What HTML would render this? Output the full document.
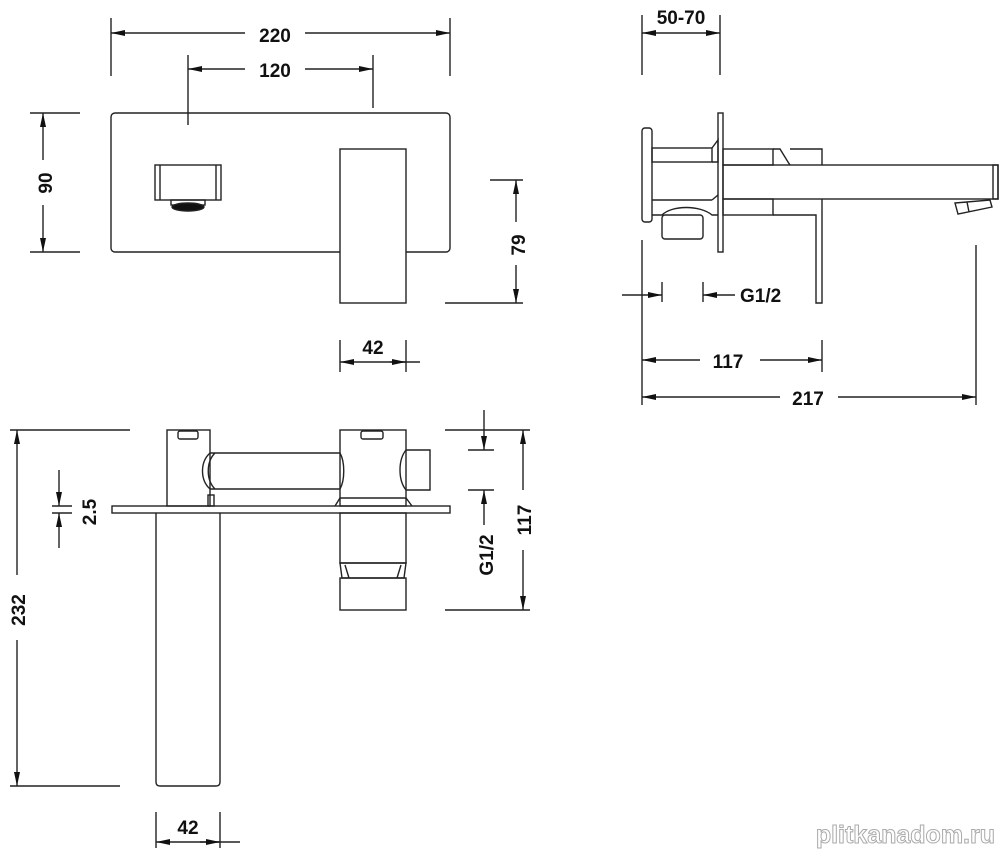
<!DOCTYPE html>
<html><head><meta charset="utf-8"><style>
html,body{margin:0;padding:0;background:#fff;}
svg{display:block;}
text{font-family:"Liberation Sans",sans-serif;font-weight:bold;font-size:19px;fill:#111;}
</style></head><body>
<svg width="1000" height="853" viewBox="0 0 1000 853" xmlns="http://www.w3.org/2000/svg">
<defs>
<marker id="a" viewBox="0 0 14 6" refX="14" refY="3" markerWidth="14" markerHeight="6" orient="auto-start-reverse" markerUnits="userSpaceOnUse"><path d="M0,0L14,3L0,6z" fill="#111"/></marker>
</defs>
<g stroke="#222" stroke-width="1.4" fill="none">
<rect x="111" y="113" width="339" height="139" rx="4"/>
<rect x="340" y="149" width="66" height="154" fill="#fff"/>
<rect x="155" y="165" width="66" height="35"/>
<line x1="160" y1="165" x2="160" y2="200"/><line x1="216" y1="165" x2="216" y2="200"/>
<rect x="171" y="200" width="34" height="5"/>
<ellipse cx="188" cy="207" rx="16" ry="4" fill="#111"/>
<line x1="111" y1="18" x2="111" y2="76"/><line x1="450" y1="18" x2="450" y2="76"/>
<line x1="111" y1="33" x2="245" y2="33" marker-start="url(#a)"/><line x1="305" y1="33" x2="450" y2="33" marker-end="url(#a)"/>
<line x1="188" y1="55" x2="188" y2="125"/><line x1="373" y1="55" x2="373" y2="108"/>
<line x1="188" y1="69" x2="245" y2="69" marker-start="url(#a)"/><line x1="305" y1="69" x2="373" y2="69" marker-end="url(#a)"/>
<line x1="30" y1="113" x2="80" y2="113"/><line x1="30" y1="252" x2="80" y2="252"/>
<line x1="43" y1="113" x2="43" y2="160" marker-start="url(#a)"/><line x1="43" y1="205" x2="43" y2="252" marker-end="url(#a)"/>
<line x1="490" y1="180" x2="523" y2="180"/><line x1="445" y1="303" x2="523" y2="303"/>
<line x1="516" y1="180" x2="516" y2="222" marker-start="url(#a)"/><line x1="516" y1="265" x2="516" y2="303" marker-end="url(#a)"/>
<line x1="340" y1="340" x2="340" y2="372"/><line x1="406" y1="340" x2="406" y2="372"/>
<line x1="340" y1="362" x2="420" y2="362" marker-start="url(#a)"/>
<line x1="390" y1="362" x2="406" y2="362" marker-end="url(#a)"/>
<rect x="642" y="128" width="10" height="94" rx="3"/>
<rect x="718" y="113" width="5" height="139"/>
<rect x="652" y="148" width="60" height="14"/>
<path d="M712,148 L718,140 L718,162 L712,162"/>
<path d="M652,200 L712,200 M652,215 L662,215 C672,205 700,205 712,215 L718,215 M712,200 L718,195"/>
<rect x="662" y="215" width="41" height="24" rx="3"/>
<rect x="723" y="149" width="50" height="16"/>
<path d="M773,149 L780,149 L788,162 L790,165 M790,149 L822,149 L822,165"/>
<rect x="723" y="165" width="275" height="34"/>
<rect x="993" y="165" width="5" height="34"/>
<rect x="723" y="199" width="50" height="16"/>
<path d="M773,215 L816,215 L816,303 L822,303 L822,199"/>
<path d="M955,203 L990,200 L992,207 L958,214 Z M967,202 L969,212"/>
<line x1="642" y1="15" x2="642" y2="75"/><line x1="720" y1="15" x2="720" y2="75"/>
<line x1="642" y1="33" x2="720" y2="33" marker-start="url(#a)" marker-end="url(#a)"/>
<line x1="642" y1="240" x2="642" y2="405"/>
<line x1="662" y1="282" x2="662" y2="302"/><line x1="703" y1="282" x2="703" y2="302"/>
<line x1="622" y1="295" x2="662" y2="295" marker-end="url(#a)"/>
<line x1="735" y1="295" x2="703" y2="295" marker-end="url(#a)"/>
<line x1="822" y1="340" x2="822" y2="372"/>
<line x1="642" y1="360" x2="700" y2="360" marker-start="url(#a)"/><line x1="760" y1="360" x2="822" y2="360" marker-end="url(#a)"/>
<line x1="976" y1="245" x2="976" y2="405"/>
<line x1="642" y1="397" x2="780" y2="397" marker-start="url(#a)"/><line x1="838" y1="397" x2="976" y2="397" marker-end="url(#a)"/>
<rect x="112" y="506" width="338" height="7"/>
<rect x="167" y="430" width="43" height="76"/>
<rect x="178" y="431" width="20" height="8" rx="2"/>
<path d="M210,453 L340,453 M210,489 L340,489 M210,453 C200,462 200,480 210,489 M215,453 C206,462 206,480 215,489 M340,453 C345,462 345,480 340,489"/>
<rect x="208" y="495" width="6" height="11"/>
<rect x="340" y="430" width="66" height="76"/>
<rect x="361" y="431" width="22" height="8" rx="2"/>
<path d="M406,450 L430,450 L430,490 L406,490 M406,450 C398,460 398,480 406,490"/>
<path d="M335,506 L340,498 L406,498 L412,506"/>
<path d="M156,513 L156,782 Q156,786 160,786 L216,786 Q220,786 220,782 L220,513"/>
<rect x="340" y="513" width="66" height="50"/>
<path d="M340,563 L406,563 L404,578 L342,578 Z M345,565 L349,578 M401,565 L397,578"/>
<rect x="340" y="578" width="66" height="32"/>
<line x1="10" y1="430" x2="130" y2="430"/><line x1="10" y1="786" x2="120" y2="786"/>
<line x1="17" y1="430" x2="17" y2="575" marker-start="url(#a)"/><line x1="17" y1="640" x2="17" y2="786" marker-end="url(#a)"/>
<line x1="52" y1="506" x2="72" y2="506"/><line x1="52" y1="513" x2="72" y2="513"/>
<line x1="59" y1="470" x2="59" y2="506" marker-end="url(#a)"/><line x1="59" y1="548" x2="59" y2="513" marker-end="url(#a)"/>
<line x1="156" y1="812" x2="156" y2="848"/><line x1="220" y1="812" x2="220" y2="848"/>
<line x1="156" y1="842" x2="240" y2="842" marker-start="url(#a)"/><line x1="200" y1="842" x2="220" y2="842" marker-end="url(#a)"/>
<line x1="445" y1="430" x2="530" y2="430"/><line x1="445" y1="610" x2="530" y2="610"/>
<line x1="523" y1="430" x2="523" y2="490" marker-start="url(#a)"/><line x1="523" y1="550" x2="523" y2="610" marker-end="url(#a)"/>
<line x1="468" y1="450" x2="494" y2="450"/><line x1="468" y1="490" x2="494" y2="490"/>
<line x1="484" y1="410" x2="484" y2="450" marker-end="url(#a)"/><line x1="484" y1="525" x2="484" y2="490" marker-end="url(#a)"/>
</g>
<text x="275" y="42" text-anchor="middle">220</text>
<text x="275" y="77" text-anchor="middle">120</text>
<text transform="translate(52,183) rotate(-90)" text-anchor="middle">90</text>
<text transform="translate(525,245) rotate(-90)" text-anchor="middle">79</text>
<text x="373" y="354" text-anchor="middle">42</text>
<text x="681" y="24" text-anchor="middle">50-70</text>
<text x="740" y="302">G1/2</text>
<text x="728" y="368" text-anchor="middle">117</text>
<text x="808" y="405" text-anchor="middle">217</text>
<text transform="translate(25,610) rotate(-90)" text-anchor="middle">232</text>
<text transform="translate(96,512) rotate(-90)" text-anchor="middle">2.5</text>
<text x="188" y="834" text-anchor="middle">42</text>
<text transform="translate(531,520) rotate(-90)" text-anchor="middle">117</text>
<text transform="translate(493,555) rotate(-90)" text-anchor="middle">G1/2</text>
<text x="995" y="843" text-anchor="end" style="font-size:25px;fill:#fff;stroke:#aaa;stroke-width:1">plitkanadom.ru</text>
</svg>
</body></html>
